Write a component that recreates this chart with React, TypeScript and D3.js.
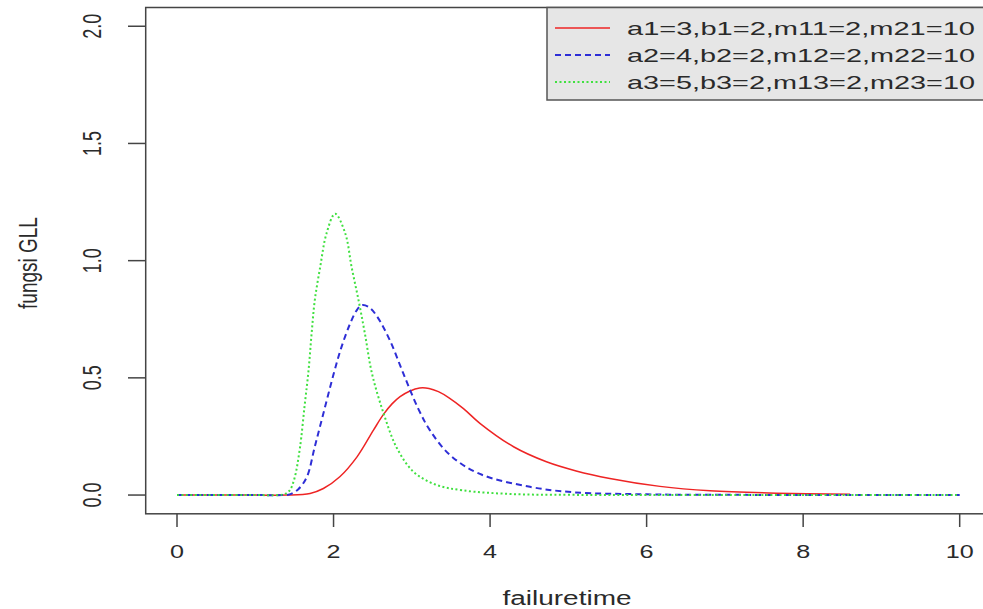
import React, { useEffect, useRef } from "react";
import * as d3 from "d3";

// values (failuretime, fungsi GLL)
const redT = [0, 1.0, 1.4, 1.7, 1.87, 2.08, 2.3, 2.51, 2.64, 2.75, 2.85, 2.97, 3.1, 3.22, 3.34, 3.48, 3.66, 3.87, 4.3, 4.72, 5.1, 5.53, 6.17, 6.81, 7.66, 8.6];
const redV = [0, 0, 0, 0.007, 0.028, 0.078, 0.163, 0.277, 0.345, 0.39, 0.42, 0.443, 0.457, 0.455, 0.441, 0.414, 0.369, 0.306, 0.206, 0.142, 0.103, 0.071, 0.037, 0.018, 0.008, 0.003];

const blueT = [0, 1.0, 1.35, 1.44, 1.55, 1.66, 1.76, 1.87, 2.0, 2.1, 2.21, 2.29, 2.36, 2.45, 2.55, 2.72, 2.89, 3.08, 3.23, 3.49, 3.87, 4.51, 5.06, 6.0, 7.0, 10];
const blueV = [0, 0, 0, 0.003, 0.025, 0.078, 0.206, 0.348, 0.515, 0.63, 0.73, 0.785, 0.81, 0.802, 0.765, 0.66, 0.52, 0.37, 0.277, 0.17, 0.09, 0.035, 0.012, 0.003, 0.001, 0];

const greenT = [0, 1.0, 1.3, 1.38, 1.44, 1.5, 1.57, 1.63, 1.68, 1.72, 1.76, 1.83, 1.91, 2.02, 2.15, 2.23, 2.32, 2.4, 2.49, 2.64, 2.81, 3.02, 3.3, 3.65, 4.3, 5.0, 6.0, 10];
const greenV = [0, 0, 0, 0.005, 0.02, 0.07, 0.2, 0.38, 0.53, 0.69, 0.83, 0.974, 1.116, 1.2, 1.116, 0.974, 0.83, 0.69, 0.52, 0.348, 0.2, 0.1, 0.045, 0.02, 0.004, 0.001, 0, 0];

const legendLabels = ["a1=3,b1=2,m11=2,m21=10", "a2=4,b2=2,m12=2,m22=10", "a3=5,b3=2,m13=2,m23=10"];
const xTicks = [0, 2, 4, 6, 8, 10];
const yTicks = [0, 0.5, 1, 1.5, 2];

const W = 983;
const H = 609;
const SX = 1.4; // the reference is stretched horizontally

const App = () => {
  const ref = useRef(null);

  useEffect(() => {
    const svg = d3.select(ref.current);
    svg.selectAll("*").remove();

    const x = d3.scaleLinear().domain([-0.4, 10.4]).range([145.7, 991]);
    const y = d3.scaleLinear().domain([-0.08, 2.08]).range([513.8, 7.5]);
    const font = "'Liberation Sans', Arial, sans-serif";
    const ink = "#2a2a2a";
    const axisCol = "#444";

    const series = [
      { t: redT, v: redV, color: "#ee2424", dash: null, w: 1.5 },
      { t: blueT, v: blueV, color: "#2e2ed6", dash: "6,4", w: 2 },
      { t: greenT, v: greenV, color: "#40e040", dash: "2,2.5", w: 2 },
    ];

    const line = d3
      .line()
      .x((d) => x(d[0]))
      .y((d) => y(Math.max(0, d[1])))
      .curve(d3.curveCatmullRom.alpha(0.5));

    series.forEach((s) => {
      const pts = s.t.map((t, i) => [t, s.v[i]]);
      svg
        .append("path")
        .attr("d", line(pts))
        .attr("fill", "none")
        .attr("stroke", s.color)
        .attr("stroke-width", s.w)
        .attr("stroke-dasharray", s.dash);
    });

    // plot box (right side runs off the picture)
    svg
      .append("rect")
      .attr("x", 145.7)
      .attr("y", 7.5)
      .attr("width", 991 - 145.7)
      .attr("height", 513.8 - 7.5)
      .attr("fill", "none")
      .attr("stroke", axisCol)
      .attr("stroke-width", 1.5);

    // x axis
    xTicks.forEach((t) => {
      svg
        .append("line")
        .attr("x1", x(t))
        .attr("x2", x(t))
        .attr("y1", 513.8)
        .attr("y2", 527)
        .attr("stroke", axisCol)
        .attr("stroke-width", 1.5);
      svg
        .append("text")
        .attr("transform", `translate(${x(t)},552) scale(${SX},1)`)
        .attr("text-anchor", "middle")
        .attr("dominant-baseline", "central")
        .style("font-family", font)
        .style("font-size", "18px")
        .attr("fill", ink)
        .text(t);
    });

    // y axis
    yTicks.forEach((v) => {
      svg
        .append("line")
        .attr("x1", 128)
        .attr("x2", 145.7)
        .attr("y1", y(v))
        .attr("y2", y(v))
        .attr("stroke", axisCol)
        .attr("stroke-width", 1.5);
      svg
        .append("text")
        .attr("transform", `translate(92.5,${y(v)}) scale(${SX},1) rotate(-90)`)
        .attr("text-anchor", "middle")
        .attr("dominant-baseline", "central")
        .style("font-family", font)
        .style("font-size", "18px")
        .attr("fill", ink)
        .text(d3.format(".1f")(v));
    });

    svg
      .append("text")
      .attr("transform", `translate(567,598) scale(${SX},1)`)
      .attr("text-anchor", "middle")
      .attr("dominant-baseline", "central")
      .style("font-family", font)
      .style("font-size", "20px")
      .attr("fill", ink)
      .text("failuretime");

    svg
      .append("text")
      .attr("transform", `translate(28,263) scale(${SX},1) rotate(-90)`)
      .attr("text-anchor", "middle")
      .attr("dominant-baseline", "central")
      .style("font-family", font)
      .style("font-size", "19px")
      .attr("fill", ink)
      .text("fungsi GLL");

    // legend
    const lg = svg.append("g");
    lg.append("rect")
      .attr("x", 547)
      .attr("y", 7.5)
      .attr("width", 991 - 547)
      .attr("height", 100 - 7.5)
      .attr("fill", "#e6e6e6")
      .attr("stroke", "#555")
      .attr("stroke-width", 1.5);

    const rowY = [28, 55, 82];
    series.forEach((s, i) => {
      lg.append("line")
        .attr("x1", 555)
        .attr("x2", 610)
        .attr("y1", rowY[i])
        .attr("y2", rowY[i])
        .attr("stroke", s.color)
        .attr("stroke-width", s.w)
        .attr("stroke-dasharray", s.dash);
      lg.append("text")
        .attr("x", 627)
        .attr("y", rowY[i])
        .attr("dominant-baseline", "central")
        .attr("textLength", 348)
        .attr("lengthAdjust", "spacingAndGlyphs")
        .style("font-family", font)
        .style("font-size", "19px")
        .attr("fill", ink)
        .text(legendLabels[i]);
    });
  }, []);

  return (
    <div style={{ position: "fixed", left: 0, top: 0, width: W, height: H, background: "#fff" }}>
      <svg ref={ref} width={W} height={H}></svg>
    </div>
  );
};

export default App;
